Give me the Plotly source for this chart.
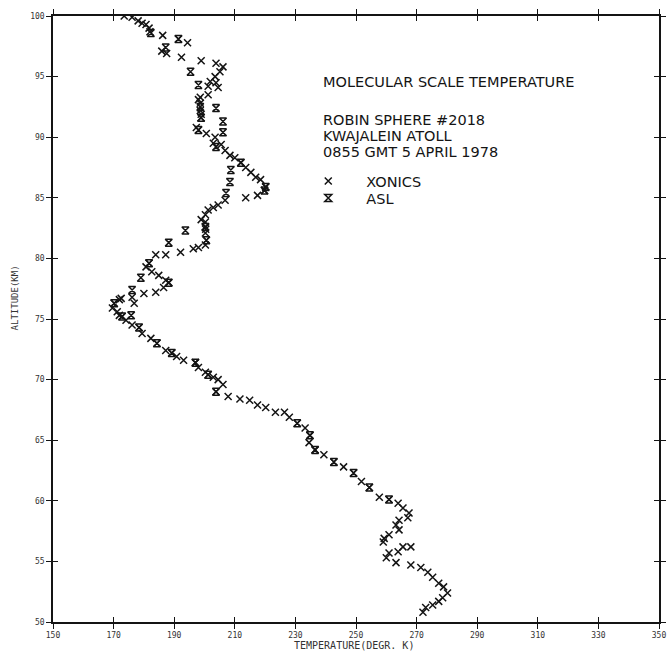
import plotly.graph_objects as go

# Temperature (K) and altitude (km) for the XONICS reduction
XONICS_T = [173.5, 176.1, 178.1, 179.4, 180.7, 181.7, 182.0, 186.2, 191.4, 194.4,
            185.9, 187.5, 192.4, 198.9, 203.8, 206.1, 205.1, 203.5, 201.9, 201.2,
            204.5, 203.8, 201.2, 198.6, 198.0, 198.6, 198.6, 198.9, 198.8, 197.3,
            198.0, 200.6, 203.5, 202.9, 205.5, 206.8, 208.4, 210.0, 212.0, 213.6,
            215.3, 216.9, 218.5, 220.2, 219.8, 217.5, 213.6, 206.8, 204.5, 202.9,
            201.2, 200.3, 198.9, 200.3, 200.3, 200.4, 200.3, 200.6, 200.3, 198.0,
            196.3, 192.1, 187.2, 183.9, 181.7, 180.7, 182.6, 184.9, 187.2, 188.2,
            186.5, 183.9, 180.0, 176.1, 176.8, 172.5, 171.9, 170.2, 169.6, 171.2,
            171.9, 172.8, 174.1, 176.1, 178.4, 179.4, 182.3, 184.3, 187.2, 189.2,
            190.8, 193.1, 197.0, 198.0, 200.3, 201.2, 202.9, 204.5, 206.1, 203.8,
            207.8, 211.7, 214.9, 217.5, 220.2, 223.4, 226.4, 228.0, 230.6, 233.2,
            234.8, 234.5, 236.5, 239.4, 242.7, 245.9, 249.2, 251.8, 254.4, 257.7,
            260.9, 263.9, 265.5, 267.5, 267.1, 264.2, 263.2, 264.2, 260.9, 259.3,
            259.0, 265.5, 268.1, 263.9, 260.9, 260.0, 263.2, 268.1, 271.4, 273.7,
            275.3, 277.3, 278.9, 280.2, 278.6, 277.3, 275.3, 273.0, 272.1]
XONICS_ALT = [100.0, 99.9, 99.6, 99.4, 99.3, 99.0, 98.7, 98.4, 98.1, 97.8,
              97.1, 96.9, 96.6, 96.3, 96.1, 95.8, 95.4, 95.0, 94.6, 94.2,
              94.1, 94.5, 93.5, 93.3, 93.1, 92.8, 92.2, 91.9, 91.6, 90.8,
              90.6, 90.3, 90.0, 89.5, 89.4, 88.9, 88.5, 88.3, 87.9, 87.5,
              87.1, 86.7, 86.5, 85.9, 85.6, 85.2, 85.0, 84.8, 84.4, 84.2,
              84.0, 83.6, 83.2, 83.0, 82.6, 82.4, 82.1, 81.5, 81.1, 80.9,
              80.8, 80.5, 80.3, 80.3, 79.6, 79.3, 78.9, 78.6, 78.2, 78.0,
              77.6, 77.2, 77.1, 76.8, 76.3, 76.7, 76.6, 76.3, 75.9, 75.6,
              75.3, 75.2, 74.9, 74.5, 74.3, 73.8, 73.4, 73.0, 72.4, 72.2,
              71.9, 71.6, 71.4, 71.0, 70.6, 70.4, 70.2, 70.0, 69.6, 69.0,
              68.6, 68.4, 68.3, 67.9, 67.7, 67.3, 67.3, 66.9, 66.4, 66.0,
              65.4, 64.8, 64.2, 63.8, 63.2, 62.8, 62.3, 61.6, 61.1, 60.3,
              60.1, 59.8, 59.4, 59.0, 58.6, 58.4, 58.0, 57.6, 57.2, 56.9,
              56.6, 56.2, 56.2, 55.8, 55.7, 55.3, 54.9, 54.7, 54.5, 54.1,
              53.7, 53.2, 52.9, 52.4, 52.0, 51.7, 51.4, 51.2, 50.8]

# Temperature (K) and altitude (km) for the ASL reduction
ASL_T = [182.3, 187.2, 191.4, 195.4, 198.0, 203.8, 206.1, 206.1, 198.6, 198.9,
         198.0, 203.8, 212.0, 208.7, 208.4, 207.1, 219.8, 220.2, 200.3, 200.6,
         193.7, 188.2, 181.7, 188.2, 179.0, 176.1, 170.2, 175.8, 172.8, 178.4,
         184.3, 189.2, 197.0, 201.2, 203.8, 230.6, 234.8, 236.5, 242.7, 249.2,
         254.4, 260.9]
ASL_ALT = [98.6, 97.4, 98.1, 95.4, 94.3, 92.4, 91.3, 90.4, 92.5, 91.6,
           90.6, 89.2, 87.9, 87.3, 86.3, 85.4, 85.6, 85.9, 82.6, 81.5,
           82.3, 81.3, 79.6, 78.0, 78.4, 77.4, 76.3, 75.3, 75.2, 74.3,
           73.0, 72.2, 71.4, 70.4, 69.0, 66.4, 65.4, 64.2, 63.2, 62.3,
           61.1, 60.1]

X_TICKS = [150, 170, 190, 210, 230, 250, 270, 290, 310, 330, 350]
X_TICK_TEXT = ["150", "170", "190", "210", "230", "250", "270", "290", "310", "330", "350"]
Y_TICKS = [50, 55, 60, 65, 70, 75, 80, 85, 90, 95, 100]

INK = "#141414"
TICK_FONT = dict(family="DejaVu Sans Mono", size=8, color="#333")
TEXT_FONT = dict(family="DejaVu Sans", size=14.5, color=INK)

# plot-area geometry in pixels, used to place the notes and legends
L, T_, W, H = 53, 16, 613, 606


def px_x(p):
    return (p - L) / W


def px_y(p):
    return 1 - (p - T_) / H


fig = go.Figure()
fig.add_trace(go.Scatter(
    x=XONICS_T, y=XONICS_ALT, mode="markers", name="XONICS", legend="legend",
    marker=dict(symbol="x-thin-open", size=7, color=INK, line=dict(width=1.5, color=INK)),
))
fig.add_trace(go.Scatter(
    x=ASL_T, y=ASL_ALT, mode="markers", name="ASL", legend="legend2",
    marker=dict(symbol="hourglass-open", size=7, color=INK, line=dict(width=1.5, color=INK)),
))
# invisible copy on the overlay axes so their inward tick marks are drawn
fig.add_trace(go.Scatter(
    x=XONICS_T, y=XONICS_ALT, xaxis="x2", yaxis="y2", mode="markers",
    marker=dict(opacity=0), showlegend=False, hoverinfo="skip",
))

axis_common = dict(showgrid=False, zeroline=False, showline=True, linecolor=INK,
                   linewidth=1.5, tickcolor=INK, tickwidth=1.3, ticklen=5)

legend_common = dict(xanchor="left", yanchor="middle", bgcolor="rgba(0,0,0,0)",
                     font=TEXT_FONT, itemwidth=66)

fig.update_layout(
    width=670, height=651,
    margin=dict(l=L, r=4, t=T_, b=29),
    paper_bgcolor="white", plot_bgcolor="white",
    xaxis=dict(range=[150, 350], tickvals=X_TICKS, ticktext=X_TICK_TEXT,
               ticks="outside", mirror="allticks", tickfont=TICK_FONT, **axis_common),
    yaxis=dict(range=[50, 100], tickvals=Y_TICKS, ticks="outside", mirror="allticks",
               tickfont=TICK_FONT, **axis_common),
    xaxis2=dict(overlaying="x", matches="x", anchor="y2", tickvals=X_TICKS, ticks="inside",
                mirror="allticks", showticklabels=False, **axis_common),
    yaxis2=dict(overlaying="y", matches="y", anchor="x2", tickvals=Y_TICKS, ticks="inside",
                mirror="allticks", showticklabels=False, **axis_common),
    showlegend=True,
    legend=dict(x=px_x(293), y=px_y(181), **legend_common),
    legend2=dict(x=px_x(293), y=px_y(198), **legend_common),
)

notes = [
    ("MOLECULAR SCALE TEMPERATURE", 82),
    ("ROBIN SPHERE #2018", 120),
    ("KWAJALEIN ATOLL", 136),
    ("0855 GMT 5 APRIL 1978", 152),
]
for text, ypix in notes:
    fig.add_annotation(
        text=text, xref="paper", yref="paper", x=px_x(324), y=px_y(ypix),
        xanchor="left", yanchor="middle", showarrow=False, font=TEXT_FONT,
    )

# axis titles
fig.add_annotation(
    text="TEMPERATURE(DEGR. K)", xref="paper", yref="paper", x=px_x(357), y=px_y(645),
    xanchor="center", yanchor="middle", showarrow=False,
    font=dict(family="DejaVu Sans Mono", size=10, color="#333"),
)
fig.add_annotation(
    text="ALTITUDE(KM)", xref="paper", yref="paper", x=px_x(15), y=px_y(298),
    xanchor="center", yanchor="middle", textangle=-90, showarrow=False,
    font=dict(family="DejaVu Sans Mono", size=9, color="#333"),
)

fig.write_html("out.html")
